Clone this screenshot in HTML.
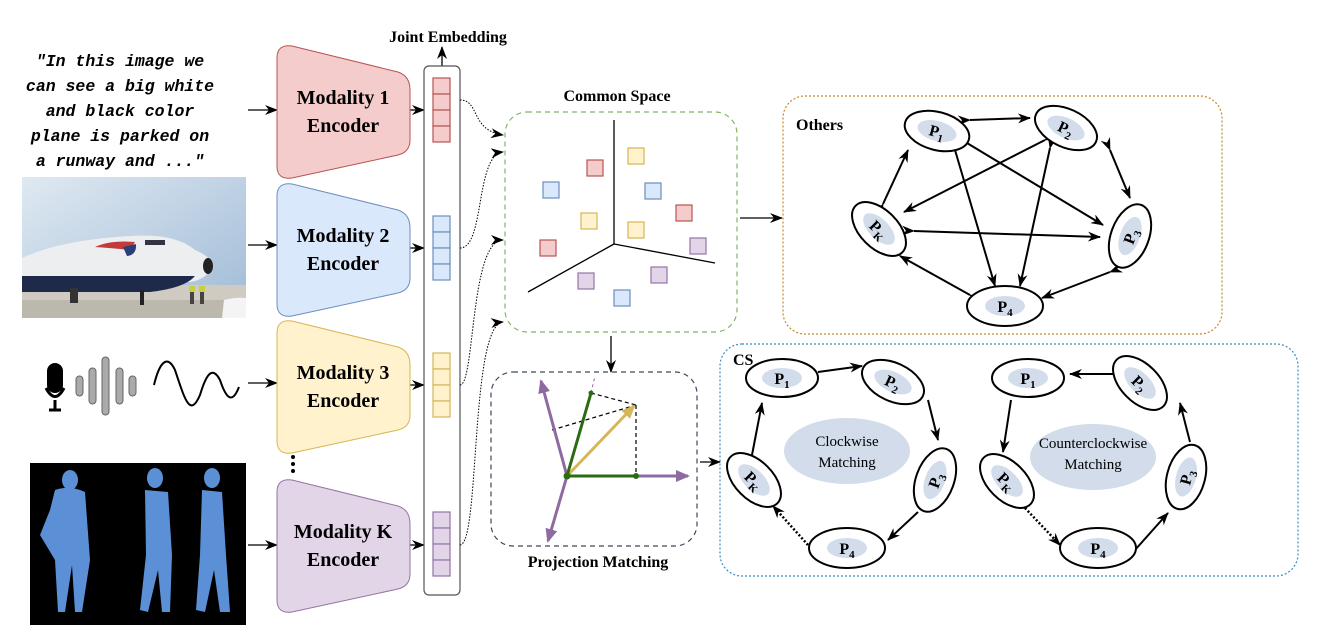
<!DOCTYPE html>
<html><head><meta charset="utf-8"><style>
html,body{margin:0;padding:0;background:#fff}
svg{display:block}
.b{font-family:"Liberation Serif",serif;font-weight:bold}
.m{font-family:"Liberation Mono",monospace;font-weight:bold;font-style:italic;font-size:16.5px}
.s{font-family:"Liberation Serif",serif}
</style></head><body>
<svg width="1324" height="643" viewBox="0 0 1324 643" xmlns="http://www.w3.org/2000/svg">
<defs>
<marker id="a" markerWidth="13" markerHeight="10" refX="12" refY="5" orient="auto" markerUnits="userSpaceOnUse"><path d="M0,0 L13,5 L0,10 L4,5z" fill="#000"/></marker>
<marker id="pa" markerWidth="14" markerHeight="12" refX="12" refY="6" orient="auto" markerUnits="userSpaceOnUse"><path d="M0,0 L14,6 L0,12z" fill="#8f6aa0"/></marker>
<marker id="ya" markerWidth="14" markerHeight="12" refX="12" refY="6" orient="auto" markerUnits="userSpaceOnUse"><path d="M0,0 L14,6 L0,12z" fill="#d6b656"/></marker>
<linearGradient id="sky" x1="0" y1="0" x2="1" y2="1"><stop offset="0" stop-color="#dfe9f2"/><stop offset="1" stop-color="#9fbad6"/></linearGradient>
</defs>

<!-- text input -->
<g class="m" text-anchor="middle">
<text x="120" y="66">"In this image we</text>
<text x="120" y="91">can see a big white</text>
<text x="120" y="116">and black color</text>
<text x="120" y="141">plane is parked on</text>
<text x="120" y="166">a runway and ..."</text>
</g>
<!-- plane image -->
<rect x="22" y="177" width="224" height="141" fill="url(#sky)"/>
<rect x="22" y="285" width="224" height="33" fill="#cfcbc2"/>
<rect x="22" y="300" width="224" height="18" fill="#bdb8ad"/>
<path d="M22,258 Q60,240 130,236 Q175,233 195,250 Q214,258 212,268 Q205,280 190,282 L22,285z" fill="#eceef0"/>
<path d="M22,276 L195,276 Q185,288 150,292 L22,292z" fill="#1f2a4a"/>
<path d="M95,247 Q110,240 135,242 L130,250 Q110,248 95,247z" fill="#c43a3a"/>
<path d="M123,247 L136,244 Q137,255 127,256z" fill="#2a3f7a"/>
<rect x="145" y="240" width="20" height="5" fill="#334"/>
<ellipse cx="208" cy="266" rx="5" ry="8" fill="#222"/>
<rect x="140" y="290" width="4" height="15" fill="#222"/><rect x="70" y="288" width="8" height="15" fill="#333"/>
<rect x="190" y="286" width="4" height="18" fill="#444"/><rect x="200" y="286" width="4" height="18" fill="#444"/>
<rect x="189" y="286" width="6" height="6" fill="#c8d040"/><rect x="199" y="286" width="6" height="6" fill="#c8d040"/>
<path d="M222,318 L224,300 Q235,297 246,298 L246,318z" fill="#f4f4f4"/>
<!-- audio -->
<rect x="47" y="363" width="16" height="30" rx="8" fill="#000"/>
<path d="M46,388 Q55,405 64,388" stroke="#000" stroke-width="3" fill="none"/>
<line x1="55" y1="400" x2="55" y2="409" stroke="#000" stroke-width="3"/><line x1="49" y1="410" x2="61" y2="410" stroke="#000" stroke-width="3"/>
<g fill="#aaa" stroke="#666" stroke-width="1">
<rect x="76" y="376" width="7" height="20" rx="3.5"/><rect x="89" y="368" width="7" height="36" rx="3.5"/>
<rect x="102" y="357" width="7" height="58" rx="3.5"/><rect x="116" y="368" width="7" height="36" rx="3.5"/>
<rect x="129" y="376" width="7" height="20" rx="3.5"/></g>
<path d="M154,385 C160,360 168,355 175,370 C185,400 190,418 200,395 C206,375 212,365 220,380 C226,398 232,405 239,387" stroke="#000" stroke-width="2" fill="none"/>
<!-- human image -->
<rect x="30" y="463" width="216" height="162" fill="#000"/>
<g fill="#5b8fd6">
<ellipse cx="70" cy="480" rx="8" ry="10"/><path d="M55,490 Q70,485 85,492 L90,560 L82,612 L75,612 L72,565 L65,612 L58,612 L55,560 L40,535 L50,510z"/>
<ellipse cx="155" cy="478" rx="8" ry="10"/><path d="M145,490 L168,492 L172,555 L170,612 L162,612 L158,570 L148,612 L140,610 L146,555z"/>
<ellipse cx="212" cy="478" rx="8" ry="10"/><path d="M202,490 L222,492 L226,555 L230,612 L220,612 L214,570 L205,612 L196,610 L200,555z"/>
</g>

<!-- input arrows -->
<g stroke="#000" stroke-width="1.3" marker-end="url(#a)">
<line x1="248" y1="110" x2="277" y2="110"/><line x1="248" y1="245" x2="277" y2="245"/>
<line x1="248" y1="383" x2="277" y2="383"/><line x1="248" y1="545" x2="277" y2="545"/>
<line x1="410" y1="110" x2="424" y2="110"/><line x1="410" y1="248" x2="424" y2="248"/>
<line x1="410" y1="385" x2="424" y2="385"/><line x1="410" y1="545" x2="424" y2="545"/>
<line x1="442" y1="66" x2="442" y2="47"/>
</g>

<!-- encoders -->
<g class="b" font-size="20" text-anchor="middle">
<path d="M277,58 Q277,44 292,46 L398,72 Q410,76 410,90 L410,140 Q410,152 398,155 L292,178 Q277,180 277,166z" fill="#f4cccc" stroke="#b85450"/>
<text x="343" y="104">Modality 1</text><text x="343" y="132">Encoder</text>
<path d="M277,196 Q277,182 292,184 L398,210 Q410,214 410,228 L410,278 Q410,290 398,293 L292,316 Q277,318 277,304z" fill="#dae8fc" stroke="#6c8ebf"/>
<text x="343" y="242">Modality 2</text><text x="343" y="270">Encoder</text>
<path d="M277,333 Q277,319 292,321 L398,347 Q410,351 410,365 L410,415 Q410,427 398,430 L292,453 Q277,455 277,441z" fill="#fff2cc" stroke="#d6b656"/>
<text x="343" y="379">Modality 3</text><text x="343" y="407">Encoder</text>
<path d="M277,492 Q277,478 292,480 L398,506 Q410,510 410,524 L410,574 Q410,586 398,589 L292,612 Q277,614 277,600z" fill="#e1d5e7" stroke="#9673a6"/>
<text x="343" y="538">Modality K</text><text x="343" y="566">Encoder</text>
</g>
<circle cx="293" cy="457" r="2" fill="#000"/><circle cx="293" cy="464" r="2" fill="#000"/><circle cx="293" cy="471" r="2" fill="#000"/>

<!-- column -->
<rect x="424" y="66" width="36" height="529" rx="5" fill="#fff" stroke="#555" stroke-width="1.2"/>
<g stroke-width="1.2">
<g fill="#f4cccc" stroke="#b85450"><rect x="433" y="78" width="17" height="16"/><rect x="433" y="94" width="17" height="16"/><rect x="433" y="110" width="17" height="16"/><rect x="433" y="126" width="17" height="16"/></g>
<g fill="#dae8fc" stroke="#6c8ebf"><rect x="433" y="216" width="17" height="16"/><rect x="433" y="232" width="17" height="16"/><rect x="433" y="248" width="17" height="16"/><rect x="433" y="264" width="17" height="16"/></g>
<g fill="#fff2cc" stroke="#d6b656"><rect x="433" y="353" width="17" height="16"/><rect x="433" y="369" width="17" height="16"/><rect x="433" y="385" width="17" height="16"/><rect x="433" y="401" width="17" height="16"/></g>
<g fill="#e1d5e7" stroke="#9673a6"><rect x="433" y="512" width="17" height="16"/><rect x="433" y="528" width="17" height="16"/><rect x="433" y="544" width="17" height="16"/><rect x="433" y="560" width="17" height="16"/></g>
</g>
<text class="b" x="448" y="42" font-size="16" text-anchor="middle">Joint Embedding</text>

<!-- dotted connectors -->
<g stroke="#000" stroke-width="1" stroke-dasharray="1.5,1.5" fill="none" marker-end="url(#a)">
<path d="M460,100 C480,100 470,130 503,135"/>
<path d="M460,248 C485,248 475,155 503,152"/>
<path d="M460,385 C475,385 470,240 503,240"/>
<path d="M460,545 C480,545 470,325 503,322"/>
</g>

<!-- common space -->
<text class="b" x="617" y="101" font-size="16" text-anchor="middle">Common Space</text>
<rect x="505" y="112" width="232" height="220" rx="22" fill="none" stroke="#82b366" stroke-width="1.2" stroke-dasharray="5,4"/>
<g stroke="#000" stroke-width="1.3"><line x1="614" y1="120" x2="614" y2="244"/><line x1="614" y1="244" x2="528" y2="292"/><line x1="614" y1="244" x2="715" y2="263"/></g>
<g stroke-width="1.2">
<g fill="#f4cccc" stroke="#b85450"><rect x="587" y="160" width="16" height="16"/><rect x="676" y="205" width="16" height="16"/><rect x="540" y="240" width="16" height="16"/></g>
<g fill="#fff2cc" stroke="#d6b656"><rect x="628" y="148" width="16" height="16"/><rect x="581" y="213" width="16" height="16"/><rect x="628" y="222" width="16" height="16"/></g>
<g fill="#dae8fc" stroke="#6c8ebf"><rect x="543" y="182" width="16" height="16"/><rect x="645" y="183" width="16" height="16"/><rect x="614" y="290" width="16" height="16"/></g>
<g fill="#e1d5e7" stroke="#9673a6"><rect x="690" y="238" width="16" height="16"/><rect x="578" y="273" width="16" height="16"/><rect x="651" y="267" width="16" height="16"/></g>
</g>
<g stroke="#000" stroke-width="1.3" marker-end="url(#a)"><line x1="740" y1="218" x2="782" y2="218"/><line x1="611" y1="336" x2="611" y2="372"/><line x1="700" y1="462" x2="720" y2="462"/></g>

<!-- projection -->
<rect x="491" y="372" width="206" height="174" rx="22" fill="none" stroke="#3a4a5c" stroke-width="1.2" stroke-dasharray="5,4"/>
<text class="b" x="598" y="567" font-size="16" text-anchor="middle">Projection Matching</text>
<g stroke="#000" stroke-width="1.2" stroke-dasharray="4,3"><line x1="591" y1="393" x2="636" y2="405"/><line x1="636" y1="405" x2="636" y2="476"/><line x1="552" y1="430" x2="636" y2="405"/></g>
<line x1="591" y1="393" x2="595" y2="376" stroke="#8f6aa0" stroke-width="1" stroke-dasharray="3,3"/>
<g stroke="#8f6aa0" stroke-width="3" marker-end="url(#pa)"><line x1="567" y1="476" x2="541" y2="381"/><line x1="567" y1="476" x2="688" y2="476"/><line x1="567" y1="476" x2="548" y2="541"/></g>
<line x1="567" y1="476" x2="634" y2="406" stroke="#d6b656" stroke-width="3" marker-end="url(#ya)"/>
<g stroke="#2d6a14" stroke-width="3"><line x1="567" y1="476" x2="591" y2="393"/><line x1="567" y1="476" x2="636" y2="476"/></g>
<circle cx="567" cy="476" r="3.5" fill="#2d6a14"/><circle cx="591" cy="393" r="2.5" fill="#2d6a14"/><circle cx="636" cy="476" r="3" fill="#2d6a14"/>

<!-- others -->
<rect x="783" y="96" width="439" height="238" rx="22" fill="none" stroke="#c8862a" stroke-width="1.2" stroke-dasharray="2,2"/>
<text class="b" x="796" y="130" font-size="16">Others</text>
<g stroke="#000" stroke-width="2" marker-start="url(#a)" marker-end="url(#a)">
<line x1="970" y1="120" x2="1030" y2="118"/>
<line x1="1110" y1="150" x2="1130" y2="198"/>
<line x1="1110" y1="272" x2="1042" y2="298"/>
<line x1="970" y1="295" x2="900" y2="256"/>
<line x1="883" y1="204" x2="908" y2="150"/>
<line x1="955" y1="150" x2="995" y2="286"/>
<line x1="962" y1="140" x2="1103" y2="225"/>
<line x1="1050" y1="148" x2="1020" y2="286"/>
<line x1="1045" y1="140" x2="904" y2="212"/>
<line x1="914" y1="231" x2="1100" y2="237"/>
</g>
<g class="b" font-size="16" text-anchor="middle">
<g transform="translate(937,131) rotate(15)"><ellipse rx="33" ry="19" fill="#fff" stroke="#000" stroke-width="2"/><ellipse rx="20" ry="10" fill="#d2dceb"/><text y="6">P<tspan font-size="11" dy="4">1</tspan></text></g>
<g transform="translate(1066,128) rotate(25)"><ellipse rx="33" ry="19" fill="#fff" stroke="#000" stroke-width="2"/><ellipse rx="20" ry="10" fill="#d2dceb"/><text y="6">P<tspan font-size="11" dy="4">2</tspan></text></g>
<g transform="translate(1130,236) rotate(-70)"><ellipse rx="33" ry="19" fill="#fff" stroke="#000" stroke-width="2"/><ellipse rx="20" ry="10" fill="#d2dceb"/><text y="6">P<tspan font-size="11" dy="4">3</tspan></text></g>
<g transform="translate(1005,306)"><ellipse rx="38" ry="20" fill="#fff" stroke="#000" stroke-width="2"/><ellipse rx="20" ry="10" fill="#d2dceb"/><text y="6">P<tspan font-size="11" dy="4">4</tspan></text></g>
<g transform="translate(879,229) rotate(45)"><ellipse rx="33" ry="19" fill="#fff" stroke="#000" stroke-width="2"/><ellipse rx="20" ry="10" fill="#d2dceb"/><text y="6">P<tspan font-size="11" dy="4">K</tspan></text></g>
</g>

<!-- CS -->
<rect x="720" y="344" width="578" height="232" rx="22" fill="none" stroke="#3a8ac0" stroke-width="1.2" stroke-dasharray="2,2"/>
<text class="b" x="733" y="365" font-size="16">CS</text>
<ellipse cx="847" cy="451" rx="63" ry="33" fill="#d2dceb"/>
<text class="s" x="847" y="446" font-size="15" text-anchor="middle">Clockwise</text><text class="s" x="847" y="467" font-size="15" text-anchor="middle">Matching</text>
<ellipse cx="1093" cy="457" rx="63" ry="33" fill="#d2dceb"/>
<text class="s" x="1093" y="448" font-size="15" text-anchor="middle">Counterclockwise</text><text class="s" x="1093" y="469" font-size="15" text-anchor="middle">Matching</text>
<g stroke="#000" stroke-width="2" marker-end="url(#a)">
<line x1="818" y1="372" x2="862" y2="366"/>
<line x1="928" y1="400" x2="938" y2="440"/>
<line x1="918" y1="512" x2="888" y2="540"/>
<line x1="752" y1="455" x2="762" y2="403"/>
<line x1="1113" y1="374" x2="1070" y2="374"/>
<line x1="1190" y1="442" x2="1180" y2="403"/>
<line x1="1135" y1="550" x2="1168" y2="513"/>
<line x1="1011" y1="400" x2="1003" y2="452"/>
</g>
<g stroke="#000" stroke-width="2.5" stroke-dasharray="2,2" marker-end="url(#a)"><line x1="808" y1="545" x2="773" y2="506"/><line x1="1025" y1="508" x2="1060" y2="545"/></g>
<g class="b" font-size="16" text-anchor="middle">
<g transform="translate(782,378)"><ellipse rx="36" ry="19" fill="#fff" stroke="#000" stroke-width="2"/><ellipse rx="20" ry="10" fill="#d2dceb"/><text y="6">P<tspan font-size="11" dy="4">1</tspan></text></g>
<g transform="translate(893,382) rotate(25)"><ellipse rx="33" ry="19" fill="#fff" stroke="#000" stroke-width="2"/><ellipse rx="20" ry="10" fill="#d2dceb"/><text y="6">P<tspan font-size="11" dy="4">2</tspan></text></g>
<g transform="translate(935,480) rotate(-70)"><ellipse rx="33" ry="19" fill="#fff" stroke="#000" stroke-width="2"/><ellipse rx="20" ry="10" fill="#d2dceb"/><text y="6">P<tspan font-size="11" dy="4">3</tspan></text></g>
<g transform="translate(847,548)"><ellipse rx="38" ry="20" fill="#fff" stroke="#000" stroke-width="2"/><ellipse rx="20" ry="10" fill="#d2dceb"/><text y="6">P<tspan font-size="11" dy="4">4</tspan></text></g>
<g transform="translate(754,480) rotate(45)"><ellipse rx="33" ry="19" fill="#fff" stroke="#000" stroke-width="2"/><ellipse rx="20" ry="10" fill="#d2dceb"/><text y="6">P<tspan font-size="11" dy="4">K</tspan></text></g>
<g transform="translate(1028,378)"><ellipse rx="36" ry="19" fill="#fff" stroke="#000" stroke-width="2"/><ellipse rx="20" ry="10" fill="#d2dceb"/><text y="6">P<tspan font-size="11" dy="4">1</tspan></text></g>
<g transform="translate(1140,383) rotate(45)"><ellipse rx="33" ry="19" fill="#fff" stroke="#000" stroke-width="2"/><ellipse rx="20" ry="10" fill="#d2dceb"/><text y="6">P<tspan font-size="11" dy="4">2</tspan></text></g>
<g transform="translate(1186,477) rotate(-75)"><ellipse rx="33" ry="19" fill="#fff" stroke="#000" stroke-width="2"/><ellipse rx="20" ry="10" fill="#d2dceb"/><text y="6">P<tspan font-size="11" dy="4">3</tspan></text></g>
<g transform="translate(1098,548)"><ellipse rx="38" ry="20" fill="#fff" stroke="#000" stroke-width="2"/><ellipse rx="20" ry="10" fill="#d2dceb"/><text y="6">P<tspan font-size="11" dy="4">4</tspan></text></g>
<g transform="translate(1007,481) rotate(45)"><ellipse rx="33" ry="19" fill="#fff" stroke="#000" stroke-width="2"/><ellipse rx="20" ry="10" fill="#d2dceb"/><text y="6">P<tspan font-size="11" dy="4">K</tspan></text></g>
</g>
</svg>
</body></html>
